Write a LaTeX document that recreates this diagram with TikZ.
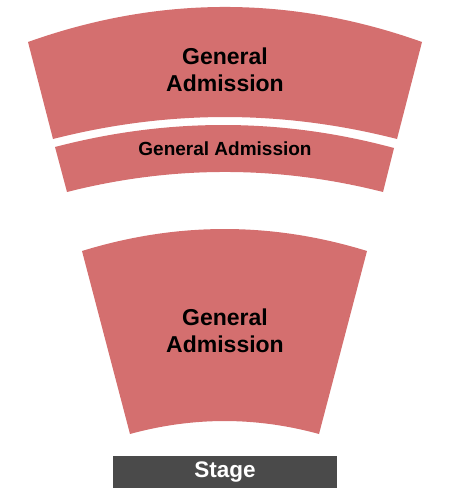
\documentclass[tikz,border=0pt]{standalone}
\usepackage{fontspec}
\setmainfont{Liberation Sans}
\usepackage{xcolor}
\usepackage{tikz}
\definecolor{gasec}{RGB}{212,111,111}
\definecolor{stagegray}{RGB}{74,74,74}

\begin{document}
\begin{tikzpicture}[
  x=1pt, y=-1pt,
  sec/.style={fill=gasec, draw=none},
  biglbl/.style={align=center, font=\bfseries\fontsize{23}{26.5}\selectfont, text=black},
  smalllbl/.style={align=center, font=\bfseries\fontsize{19}{22}\selectfont, text=black},
  stagebox/.style={fill=stagegray, draw=none, minimum width=224pt, minimum height=32pt,
                   inner sep=0pt, text=white, font=\bfseries\fontsize{22.5}{26}\selectfont}
]
\useasboundingbox (0,0) rectangle (450,500);

% upper section
\fill[sec] (28,42) .. controls (159,-4.7) and (291,-4.7) .. (422,42)
  -- (397,139) .. controls (282,109.7) and (168,109.7) .. (53,139) -- cycle;
\node[biglbl] (gaupper) at (225,70) {General\\Admission};

% middle strip
\fill[sec] (55,147) .. controls (168,117.5) and (281,117.5) .. (394,148)
  -- (383,192) .. controls (278,165.3) and (172,165.3) .. (67,192) -- cycle;
\node[smalllbl] (gamid) at (225,149) {General Admission};

% floor section
\fill[sec] (82,251) .. controls (177,221.7) and (272,221.7) .. (367,251)
  -- (319,434) .. controls (256,416.7) and (193,416.7) .. (130,434) -- cycle;
\node[biglbl] (gafloor) at (225,331) {General\\Admission};

\node[stagebox] (stage) at (225,472) {Stage};
\end{tikzpicture}
\end{document}
